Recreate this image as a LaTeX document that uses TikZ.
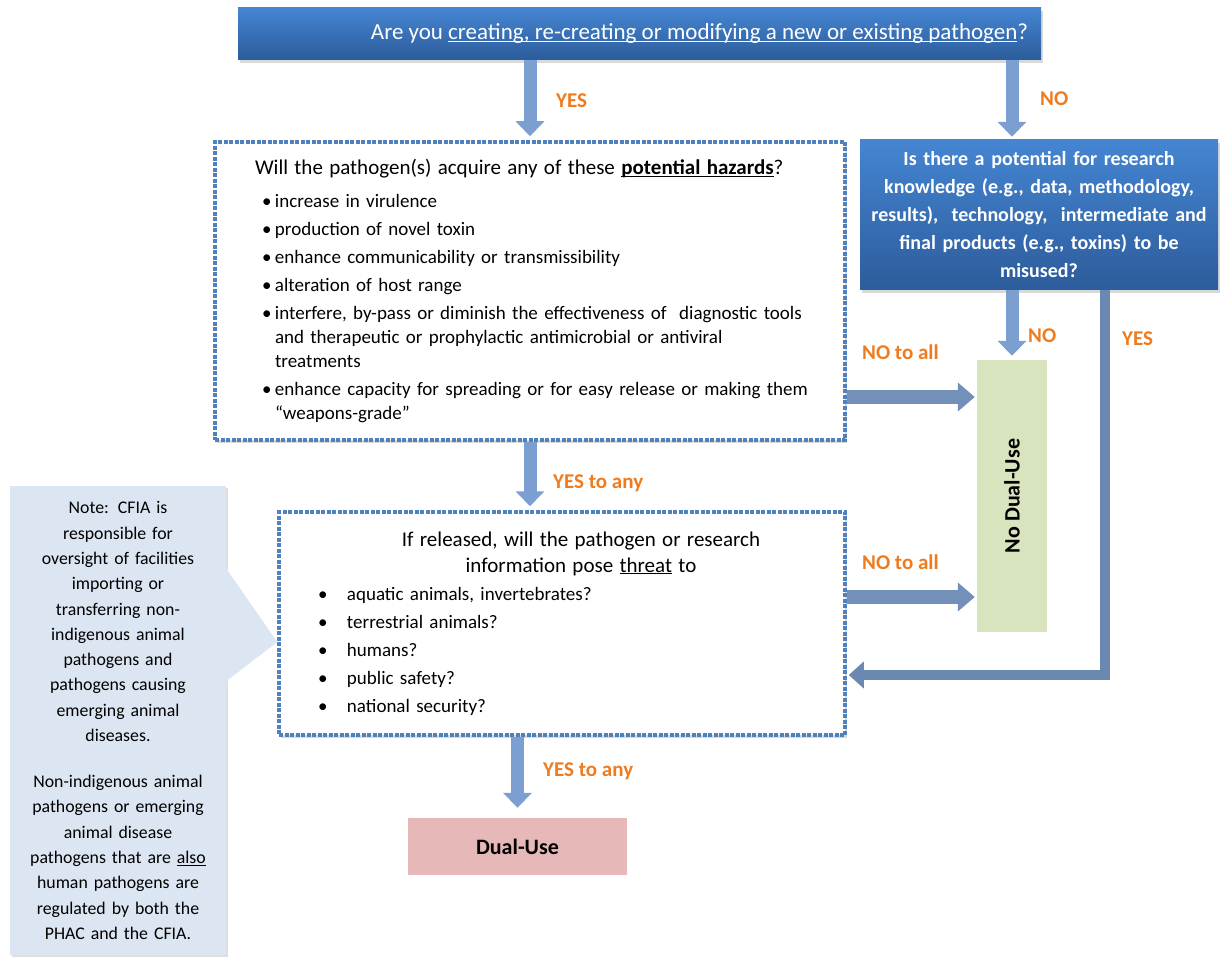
\documentclass[tikz,border=0pt]{standalone}
\usepackage{fontspec}
\setmainfont{Carlito}
\usepackage{graphicx}
\usetikzlibrary{arrows.meta,positioning,calc,shadows}

\definecolor{hdrTop}{HTML}{4585D2}
\definecolor{hdrBot}{HTML}{2C5C9B}
\definecolor{dotBlue}{HTML}{4F81BD}
\definecolor{lblOrange}{HTML}{EE7B1E}
\definecolor{flowBlue}{HTML}{7A9FD0}
\definecolor{sideBlue}{HTML}{7390B8}
\definecolor{yesBlue}{HTML}{6A88B0}
\definecolor{okGreen}{HTML}{D7E4BD}
\definecolor{duPink}{HTML}{E6B9B8}
\definecolor{noteFill}{HTML}{DCE6F2}

\newcommand{\undl}[1]{\underline{\smash{#1}}}
\newcommand{\bulitem}[3]{\par\noindent\hangindent=\dimexpr#1+#2\relax\hangafter=1\hspace*{#1}\makebox[#2][l]{\textbullet}#3}

\begin{document}
\begin{tikzpicture}[
    x=1pt, y=-1pt,
    font=\fontsize{19}{24}\selectfont,
    hdrbox/.style={rectangle, top color=hdrTop, bottom color=hdrBot, text=white, draw=none, drop shadow={opacity=0.3, shadow xshift=2pt, shadow yshift=-3pt}},
    dotbox/.style={rectangle, fill=white, draw=dotBlue, line width=3.5pt, dash pattern=on 4pt off 1.5pt, drop shadow={opacity=0.3, shadow xshift=2pt, shadow yshift=-3pt}},
    endbox/.style={rectangle, draw=none, font=\bfseries\fontsize{22}{24}\selectfont},
    flow/.style={line width=13pt, flowBlue, -{Triangle[length=15pt, width=28pt]}},
    side/.style={line width=14pt, sideBlue, -{Triangle[length=17pt, width=28pt]}},
    yespath/.style={line width=10pt, yesBlue, line join=miter, -{Triangle[length=15pt, width=26pt]}},
    lbl/.style={anchor=west, inner sep=0pt, text=lblOrange, font=\bfseries\fontsize{21}{24}\selectfont}
]
\useasboundingbox (0,0) rectangle (1221,957);

\node[hdrbox, minimum width=803pt, minimum height=52pt, font=\fontsize{23}{24}\selectfont] (q1) at (639.5,34)
    {\hspace*{120pt}Are you \undl{creating, re-creating or modifying a new or existing pathogen}?};

\node[dotbox, minimum width=630pt, minimum height=298pt, text width=600pt, inner xsep=15pt, align=left,
      font=\fontsize{19}{24}\selectfont] (haz) at (530,291)
    {\setlength{\parskip}{4pt}%
     \hspace*{25pt}{\fontsize{21}{24}\selectfont Will the pathogen(s) acquire any of these \undl{\textbf{potential hazards}}?}\par\vspace{5pt}
     \bulitem{32pt}{13pt}{increase in virulence}
     \bulitem{32pt}{13pt}{production of novel toxin}
     \bulitem{32pt}{13pt}{enhance communicability or transmissibility}
     \bulitem{32pt}{13pt}{alteration of host range}
     \bulitem{32pt}{13pt}{interfere, by-pass or diminish the effectiveness of \ diagnostic tools\newline and therapeutic or prophylactic antimicrobial or antiviral\newline treatments}
     \bulitem{32pt}{13pt}{enhance capacity for spreading or for easy release or making them\newline ``weapons-grade''}\par};

\node[hdrbox, minimum width=358pt, minimum height=150pt, text width=352pt, inner xsep=3pt, align=center,
      font=\bfseries\fontsize{20}{28}\selectfont] (misuse) at (1039,215)
    {Is there a potential for research\\ knowledge (e.g., data, methodology,\\ results), \ technology, \ intermediate and\\ final products (e.g., toxins) to be\\ misused?};

\node[endbox, fill=okGreen, minimum width=70pt, minimum height=272pt] (noDU) at (1012,496)
    {\rotatebox{90}{No Dual-Use}};

\node[dotbox, minimum width=566pt, minimum height=223pt, text width=536pt, inner xsep=15pt, align=left,
      font=\fontsize{19}{26}\selectfont] (thr) at (562,623.5)
    {\setlength{\parskip}{2pt}%
     {\fontsize{21}{26}\selectfont\centering\hspace*{38pt}If released, will the pathogen or research\\ \hspace*{38pt}information pose \undl{threat} to\par}
     \bulitem{24pt}{29pt}{aquatic animals, invertebrates?}
     \bulitem{24pt}{29pt}{terrestrial animals?}
     \bulitem{24pt}{29pt}{humans?}
     \bulitem{24pt}{29pt}{public safety?}
     \bulitem{24pt}{29pt}{national security?}\par};

\node[endbox, fill=duPink, minimum width=219pt, minimum height=57pt] (dual) at (517.5,846.5) {Dual-Use};

\node[rectangle, fill=noteFill, minimum width=216pt, minimum height=469pt, text width=210pt, inner xsep=3pt, align=center,
      font=\fontsize{17.8}{25.3}\selectfont,
      drop shadow={opacity=0.25, shadow xshift=2pt, shadow yshift=-2pt}] (note) at (118,720.5)
    {Note: CFIA is\\ responsible for\\ oversight of facilities\\ importing or\\ transferring non-\\ indigenous animal\\ pathogens and\\ pathogens causing\\ emerging animal\\ diseases.\\[20.7pt]
     Non-indigenous animal\\ pathogens or emerging\\ animal disease\\ pathogens that are \undl{also}\\ human pathogens are\\ regulated by both the\\ PHAC and the CFIA.};
\fill[noteFill] ([xshift=-1pt]note.east |- 0,567) -- (thr.west |- 0,642) -- ([xshift=-1pt]note.east |- 0,682) -- cycle;

\coordinate (yesBend) at (1105,675);

\draw[flow, shorten >=4pt] (q1.south -| haz.north) -- (haz.north);
\draw[flow, shorten >=3pt] (q1.south -| noDU.north) -- (misuse.north -| noDU.north);
\draw[flow, shorten >=4pt] (misuse.south -| noDU.north) -- (noDU.north);
\draw[flow, shorten >=4pt] (haz.south) -- (thr.north -| haz.south);
\draw[flow, shorten >=10pt] (thr.south -| dual.north) -- (dual.north);
\draw[side, shorten >=2pt] (haz.east |- 0,397) -- (noDU.west |- 0,397);
\draw[side, shorten >=2pt] (thr.east |- 0,597) -- (noDU.west |- 0,597);
\draw[yespath, shorten >=2pt] (misuse.south -| yesBend) -- (yesBend) -- (thr.east |- yesBend);

\node[lbl] (yes1) at (556,101) {YES};
\node[lbl] (no1) at (1040,99) {NO};
\node[lbl] (no2) at (1028,336) {NO};
\node[lbl] (yes2) at (1122,339) {YES};
\node[lbl] (noall1) at (862,352) {NO to all};
\node[lbl] (yesany1) at (553,483) {YES to any};
\node[lbl] (noall2) at (862,562) {NO to all};
\node[lbl] (yesany2) at (543,771) {YES to any};
\end{tikzpicture}
\end{document}
